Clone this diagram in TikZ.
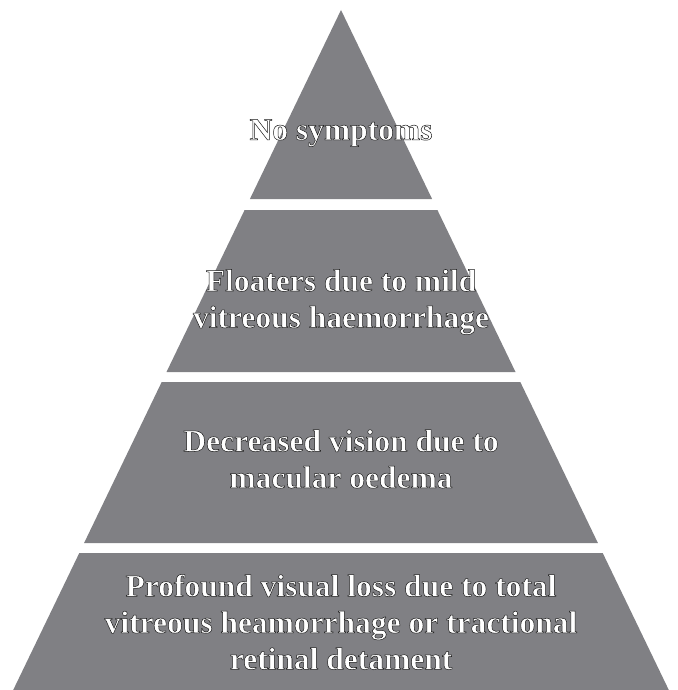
\documentclass[tikz,border=0pt]{standalone}
\usepackage{fontspec}
\setmainfont{Liberation Serif}
\definecolor{tiergray}{RGB}{128,128,132}
\newcommand{\outlinetext}[1]{\special{pdf:code 2 Tr 0.5 w 1 g 0.1 0.1 0.1 RG}#1\special{pdf:code 0 Tr}}
\tikzset{
  tier/.style={fill=tiergray, draw=none},
  lbl/.style={text=white, font=\bfseries\fontsize{31.5}{36.5}\selectfont, align=center, inner sep=0pt}
}
\begin{document}
\begin{tikzpicture}[x=1pt,y=-1pt]
\useasboundingbox[fill=white] (0,0) rectangle (677,690);
\fill[tier] (341,10) -- (432.1,199) -- (249.9,199) -- cycle;
\fill[tier] (244.6,210) -- (437.4,210) -- (515.5,372) -- (166.5,372) -- cycle;
\fill[tier] (161.7,382) -- (520.3,382) -- (597.9,543) -- (84.1,543) -- cycle;
\fill[tier] (79.3,553) -- (602.7,553) -- (668.8,690) -- (13.2,690) -- cycle;
\node[lbl] (t1) at (341,133) {\outlinetext{No symptoms}};
\node[lbl] (t2) at (341,302) {\outlinetext{Floaters due to mild\\vitreous haemorrhage}};
\node[lbl] (t3) at (341,459) {\outlinetext{Decreased vision due to\\macular oedema}};
\node[lbl] (t4) at (341,622) {\outlinetext{Profound visual loss due to total\\vitreous heamorrhage or tractional\\retinal detament}};
\end{tikzpicture}
\end{document}
